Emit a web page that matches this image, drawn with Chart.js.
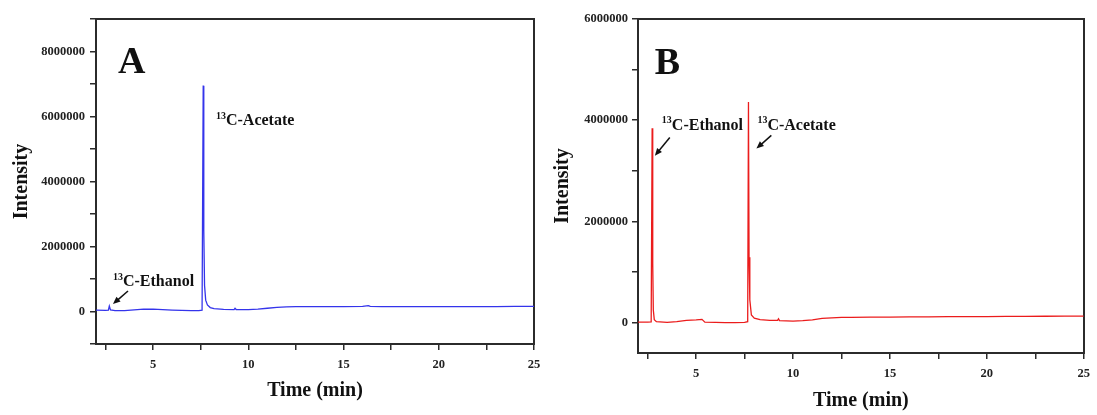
<!DOCTYPE html>
<html lang="en">
<head>
    <meta charset="UTF-8">
    <title>GC-MS chromatograms</title>
    <script src="https://cdn.jsdelivr.net/npm/chart.js@4.4.1/dist/chart.umd.min.js"></script>
    <style>
        html, body {margin: 0; padding: 0; background: #fff; overflow: hidden;}
        .panel {position: absolute; top: 0; height: 415px;}
    </style>
</head>
<body>
<div class="panel" style="left: 0; width: 548px;"><canvas id="chartA" width="548" height="415"></canvas></div>
<div class="panel" style="left: 548px; width: 549px;"><canvas id="chartB" width="549" height="415"></canvas></div>

<script>
    // retention time (min) and intensity, panel A
    const timeA = [2.0, 2.5, 2.65, 2.7, 2.76, 3.0, 3.5, 4.0, 4.5, 5.0, 5.5, 6.0, 6.5, 7.0, 7.4, 7.57, 7.63, 7.66, 7.7, 7.76,
        7.85, 8.0, 8.2, 8.7, 9.25, 9.3, 9.36, 10.0, 10.5, 11.0, 11.5, 12.0, 12.5, 13.0, 14.0, 15.0, 16.0, 16.3, 16.4,
        17.0, 18.0, 19.0, 20.0, 21.0, 22.0, 23.0, 24.0, 25.0];
    const intensityA = [40000, 35000, 40000, 170000, 50000, 30000, 30000, 50000, 70000, 70000, 60000, 45000, 35000, 25000,
        25000, 40000, 6950000, 2500000, 800000, 350000, 200000, 120000, 90000, 65000, 60000, 100000, 60000, 60000, 75000,
        100000, 130000, 145000, 150000, 150000, 150000, 152000, 155000, 180000, 155000, 152000, 150000, 152000, 152000,
        152000, 150000, 150000, 155000, 155000];

    // retention time (min) and intensity, panel B
    const timeB = [2.0, 2.5, 2.68, 2.73, 2.76, 2.79, 2.84, 2.95, 3.5, 4.0, 4.5, 5.0, 5.3, 5.45, 6.0, 6.5, 7.0, 7.5, 7.66,
        7.7, 7.73, 7.77, 7.85, 8.0, 8.3, 8.8, 9.2, 9.25, 9.3, 10.0, 10.5, 11.0, 11.5, 12.0, 12.5, 13.0, 14.0, 15.0, 16.0,
        17.0, 18.0, 19.0, 20.0, 21.0, 22.0, 23.0, 24.0, 25.0];
    const intensityB = [10000, 10000, 15000, 3840000, 1170000, 250000, 60000, 20000, 5000, 20000, 45000, 55000, 65000,
        10000, 5000, 0, 0, 5000, 20000, 4360000, 1290000, 450000, 150000, 90000, 60000, 45000, 45000, 75000, 40000, 30000,
        40000, 55000, 85000, 95000, 105000, 105000, 108000, 110000, 112000, 115000, 117000, 118000, 120000, 122000,
        124000, 126000, 128000, 130000];

    // labelled ticks
    const timeTicks = [5, 10, 15, 20, 25];
    const intensityTicksA = [0, 2000000, 4000000, 6000000, 8000000];
    const intensityTicksB = [0, 2000000, 4000000, 6000000];

    const serif = '"Times New Roman", "Liberation Serif", serif';
    const axisColor = '#2b2b2b';

    // text labels, arrows and the panel letter, placed in data units
    const peakLabels = {
        id: 'peakLabels',
        afterDatasetsDraw(chart, args, opts) {
            const ctx = chart.ctx;
            const sx = chart.scales.x, sy = chart.scales.y;
            ctx.save();
            ctx.fillStyle = '#111';
            ctx.strokeStyle = '#111';
            ctx.textBaseline = 'middle';
            ctx.textAlign = 'left';

            (opts.labels || []).forEach(function (l) {
                let px = sx.getPixelForValue(l.x);
                const py = sy.getPixelForValue(l.y);
                ctx.font = 'bold 10px ' + serif;
                ctx.fillText(l.sup, px, py - 5);
                px += ctx.measureText(l.sup).width;
                ctx.font = 'bold 16px ' + serif;
                ctx.fillText(l.text, px, py);
            });

            (opts.arrows || []).forEach(function (a) {
                const x1 = sx.getPixelForValue(a.x1), y1 = sy.getPixelForValue(a.y1);
                const x2 = sx.getPixelForValue(a.x2), y2 = sy.getPixelForValue(a.y2);
                const ang = Math.atan2(y2 - y1, x2 - x1);
                const head = 8;
                ctx.lineWidth = 1.5;
                ctx.beginPath();
                ctx.moveTo(x1, y1);
                ctx.lineTo(x2 - Math.cos(ang) * head * 0.8, y2 - Math.sin(ang) * head * 0.8);
                ctx.stroke();
                ctx.beginPath();
                ctx.moveTo(x2, y2);
                ctx.lineTo(x2 - head * Math.cos(ang - 0.4), y2 - head * Math.sin(ang - 0.4));
                ctx.lineTo(x2 - head * Math.cos(ang + 0.4), y2 - head * Math.sin(ang + 0.4));
                ctx.closePath();
                ctx.fill();
            });

            if (opts.panel) {
                ctx.font = 'bold 38px ' + serif;
                ctx.textBaseline = 'alphabetic';
                ctx.fillText(opts.panel.text, sx.getPixelForValue(opts.panel.x), sy.getPixelForValue(opts.panel.y));
            }
            ctx.restore();
        }
    };

    function fixSize(w, h) {
        return function (scale) {
            if (w !== null) scale.width = w;
            if (h !== null) scale.height = h;
        };
    }

    // major + minor tick marks every `step` from `from` to `to`
    function tickMarks(from, to, step) {
        return function (scale) {
            const list = [];
            for (let v = from; v <= to + step / 1000; v += step) {
                list.push({value: Math.round(v * 1000) / 1000});
            }
            scale.ticks = list;
        };
    }

    function newChromatogram(id, cfg) {
        const points = cfg.time.map(function (t, i) {
            return {x: t, y: cfg.intensity[i]};
        });
        const tickFont = {family: serif, size: 12.5, weight: 'bold'};
        const titleFont = {family: serif, size: 20, weight: 'bold'};
        const frame = {color: axisColor, width: 2};

        return new Chart(document.getElementById(id), {
            type: 'line',
            data: {
                datasets: [{
                    data: points,
                    borderColor: cfg.color,
                    borderWidth: 1.3,
                    pointRadius: 0,
                    tension: 0
                }]
            },
            options: {
                responsive: false,
                animation: false,
                layout: {padding: cfg.padding},
                plugins: {
                    legend: {display: false},
                    tooltip: {enabled: false},
                    peakLabels: cfg.notes
                },
                scales: {
                    x: {
                        type: 'linear', position: 'bottom', min: 2, max: 25,
                        afterFit: fixSize(null, cfg.xHeight),
                        afterBuildTicks: tickMarks(2.5, 25, 2.5),
                        border: frame,
                        grid: {drawOnChartArea: false, drawTicks: true, tickLength: 6, color: axisColor, lineWidth: 1.5},
                        ticks: {
                            autoSkip: false, maxRotation: 0, padding: 7,
                            color: '#222', font: tickFont,
                            callback: function (v) { return timeTicks.includes(v) ? String(v) : ''; }
                        },
                        title: {display: true, text: 'Time (min)', color: '#111', font: titleFont, padding: cfg.xTitlePad}
                    },
                    y: {
                        type: 'linear', position: 'left', min: cfg.yMin, max: cfg.yMax,
                        afterFit: fixSize(cfg.yWidth, null),
                        afterBuildTicks: tickMarks(cfg.yFirstTick, cfg.yMax, 1000000),
                        border: frame,
                        grid: {drawOnChartArea: false, drawTicks: true, tickLength: 6, color: axisColor, lineWidth: 1.5},
                        ticks: {
                            autoSkip: false, padding: cfg.yTickPad,
                            color: '#222', font: tickFont,
                            callback: function (v) { return cfg.yTicks.includes(v) ? String(v) : ''; }
                        },
                        title: {display: true, text: 'Intensity', color: '#111', font: titleFont, padding: cfg.yTitlePad}
                    },
                    // top and right edges of the frame
                    x2: {
                        type: 'linear', position: 'top', min: 2, max: 25,
                        afterFit: fixSize(null, 0), border: frame,
                        grid: {display: false}, ticks: {display: false}
                    },
                    y2: {
                        type: 'linear', position: 'right', min: cfg.yMin, max: cfg.yMax,
                        afterFit: fixSize(0, null), border: frame,
                        grid: {display: false}, ticks: {display: false}
                    }
                }
            },
            plugins: [peakLabels]
        });
    }

    newChromatogram('chartA', {
        time: timeA, intensity: intensityA, color: 'rgb(52, 52, 235)',
        yMin: -1000000, yMax: 9000000, yFirstTick: -1000000, yTicks: intensityTicksA,
        padding: {top: 19, right: 14, left: 0, bottom: 0},
        yWidth: 96, xHeight: 71, yTickPad: 5,
        yTitlePad: {top: 10, bottom: 0}, xTitlePad: {top: 0, bottom: 12},
        notes: {
            labels: [
                {x: 8.3, y: 5860000, sup: '13', text: 'C-Acetate'},
                {x: 2.89, y: 910000, sup: '13', text: 'C-Ethanol'}
            ],
            arrows: [{x1: 3.68, y1: 630000, x2: 2.89, y2: 230000}],
            panel: {x: 3.16, y: 7340000, text: 'A'}
        }
    });

    newChromatogram('chartB', {
        time: timeB, intensity: intensityB, color: 'rgb(235, 28, 28)',
        yMin: -600000, yMax: 6000000, yFirstTick: 0, yTicks: intensityTicksB,
        padding: {top: 19, right: 11, left: 0, bottom: 0},
        yWidth: 90, xHeight: 62, yTickPad: 4,
        yTitlePad: {top: 3, bottom: 0}, xTitlePad: {top: 0, bottom: 2},
        notes: {
            labels: [
                {x: 3.23, y: 3890000, sup: '13', text: 'C-Ethanol'},
                {x: 8.16, y: 3890000, sup: '13', text: 'C-Acetate'}
            ],
            arrows: [
                {x1: 3.64, y1: 3660000, x2: 2.87, y2: 3300000},
                {x1: 8.88, y1: 3700000, x2: 8.11, y2: 3440000}
            ],
            panel: {x: 2.87, y: 4920000, text: 'B'}
        }
    });
</script>
</body>
</html>
